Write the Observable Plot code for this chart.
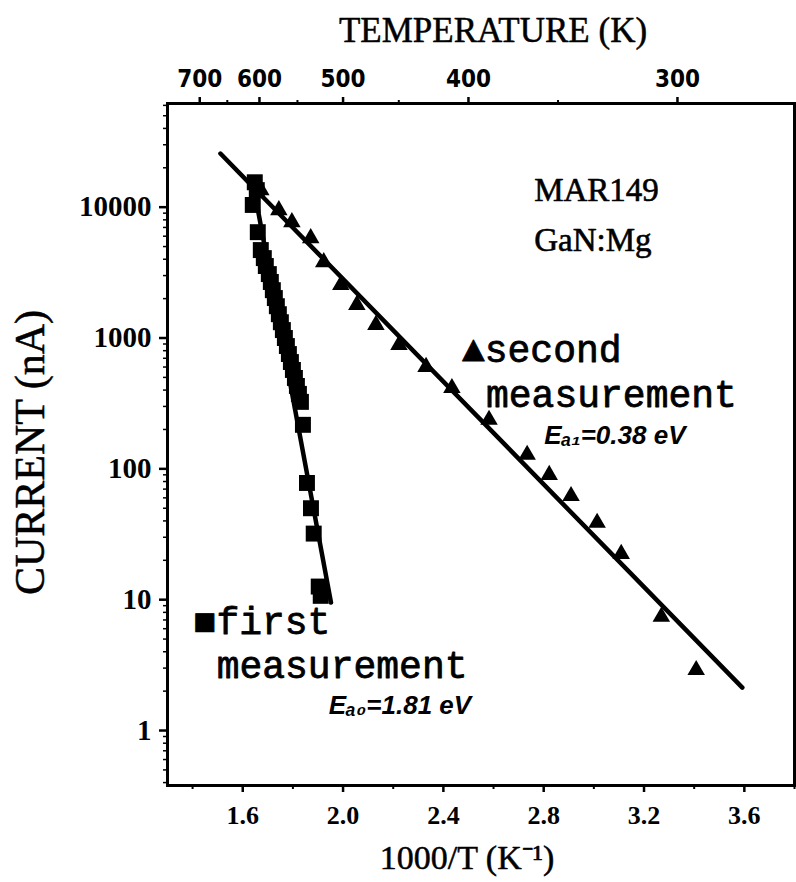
<!DOCTYPE html>
<html><head><meta charset="utf-8">
<script src="https://cdn.jsdelivr.net/npm/d3@7"></script>
<script src="https://cdn.jsdelivr.net/npm/@observablehq/plot@0.6"></script>
<style>body{margin:0;background:#fff}</style>
</head><body><div id="chart"></div>
<script>
// first measurement (squares)
const firstX = [1.648,1.656,1.640,1.660,1.672,1.684,1.692,1.704,1.712,1.720,1.728,1.736,1.744,1.752,1.760,1.768,1.776,1.784,1.792,1.800,1.808,1.816,1.824,1.832,1.840,1.856,1.872,1.883,1.903,1.911];
const firstY = [15500,13500,10400,6440,4700,4080,3550,3080,2680,2320,2020,1750,1520,1320,1150,1000,868,754,655,570,495,430,374,325,217,78,50,32,12.6,10.7];
// second measurement (triangles)
const secondX = [1.672,1.744,1.796,1.871,1.923,1.991,2.055,2.131,2.223,2.331,2.434,2.582,2.734,2.822,2.909,3.013,3.109,3.269,3.408];
const secondY = [13500,9500,7680,5800,3800,2540,1790,1260,885,601,415,237,128,90,62,38.7,22.4,7.4,2.9];
// fitted lines (end points)
const fit1X = [1.64,1.952], fit1Y = [15500,9.5];
const fit2X = [1.511,3.592], fit2Y = [25700,2.13];
// axes
const xTicks = [1.6,2.0,2.4,2.8,3.2,3.6];
const xMinor = [1.4,1.8,2.2,2.6,3.0,3.4,3.8];
const tempTicks = [700,600,500,400,300];
const tempMinor = [650,550,450,350];
const yTicks = [1,10,100,1000,10000];
// annotations
const labelTexts = ["MAR149","GaN:Mg"];
const labelX = [2.762,2.762], labelY = [13500,5600];
const monoTexts = ["▲second","measurement","■first","measurement"];
const monoX = [2.474,2.570,1.404,1.496], monoY = [809,367,6.8,3.13];
const energyTexts = ["Eₐ₁=0.38 eV","Eₐ₀=1.81 eV"];
const energyX = [2.802,1.943], energyY = [180,1.55];

const first = firstX.map((x,i)=>({x,y:firstY[i]}));
const second = secondX.map((x,i)=>({x,y:secondY[i]}));
const fit1 = fit1X.map((x,i)=>({x,y:fit1Y[i]}));
const fit2 = fit2X.map((x,i)=>({x,y:fit2Y[i]}));
const labels = labelTexts.map((t,i)=>({t,x:labelX[i],y:labelY[i]}));
const monos = monoTexts.map((t,i)=>({t,x:monoX[i],y:monoY[i]}));
const energies = energyTexts.map((t,i)=>({t,x:energyX[i],y:energyY[i]}));
const yMinor = [];
for (let e=-1;e<=4;e++) for (let m=2;m<=9;m++){const v=m*Math.pow(10,e); if(v>=0.38&&v<=62000) yMinor.push(v);}

const serif = "'Liberation Serif','Times New Roman',serif";
const mono = "'Liberation Mono','Courier New',monospace";
const narrow = "'Liberation Sans Narrow','DejaVu Sans Condensed','Liberation Sans',sans-serif";
const sans = "'Liberation Sans',Arial,sans-serif";

const chart = Plot.plot({
  width:796, height:882,
  marginLeft:167, marginRight:2, marginTop:103, marginBottom:97,
  style:{background:"#fff", color:"#000", fontFamily:serif, overflow:"visible"},
  x:{domain:[1.3,3.8]},
  y:{type:"log", domain:[0.38,62000]},
  marks:[
    Plot.frame({stroke:"#000", strokeWidth:3}),
    Plot.axisX({anchor:"bottom", ticks:xTicks, tickFormat:d3.format(".1f"), tickSize:7, tickPadding:13, strokeWidth:2.5, fontSize:26, fontWeight:"bold", fontFamily:serif, label:null}),
    Plot.axisX({anchor:"bottom", ticks:xMinor, tickFormat:()=>"", tickSize:4, strokeWidth:2, label:null}),
    Plot.axisX({anchor:"top", ticks:tempTicks.map(t=>1000/t), tickFormat:d=>String(Math.round(1000/d)), tickSize:7, tickPadding:10, strokeWidth:2.5, fontSize:24, fontWeight:"bold", fontFamily:narrow, label:null}),
    Plot.axisX({anchor:"top", ticks:tempMinor.map(t=>1000/t), tickFormat:()=>"", tickSize:4, strokeWidth:2, label:null}),
    Plot.axisY({ticks:yTicks, tickFormat:d=>String(d), tickSize:8, tickPadding:8, strokeWidth:2.5, fontSize:29, fontWeight:"bold", fontFamily:serif, label:null}),
    Plot.axisY({ticks:yMinor, tickFormat:()=>"", tickSize:4, strokeWidth:1.5, label:null}),
    Plot.line(fit1, {x:"x", y:"y", stroke:"#000", strokeWidth:4.5}),
    Plot.line(fit2, {x:"x", y:"y", stroke:"#000", strokeWidth:4.5}),
    Plot.dot(first, {x:"x", y:"y", symbol:"square", r:9, fill:"#000"}),
    Plot.dot(second, {x:"x", y:"y", symbol:"triangle", r:6.5, fill:"#000"}),
    Plot.text(labels, {x:"x", y:"y", text:"t", textAnchor:"start", fontFamily:serif, fontSize:33, fill:"#000", stroke:"#000", strokeWidth:0.6}),
    Plot.text(monos, {x:"x", y:"y", text:"t", textAnchor:"start", fontFamily:mono, fontSize:38, fill:"#000", stroke:"#000", strokeWidth:0.8}),
    Plot.text(energies, {x:"x", y:"y", text:"t", textAnchor:"start", fontFamily:sans, fontStyle:"italic", fontWeight:"bold", fontSize:26, fill:"#000"}),
    Plot.text(["TEMPERATURE (K)"], {text:d=>d, frameAnchor:"top", lineAnchor:"middle", dx:12, dy:-73, fontFamily:serif, fontSize:35, letterSpacing:"1.5px", fill:"#000", stroke:"#000", strokeWidth:0.5}),
    Plot.text(["1000/T (K⁻¹)"], {text:d=>d, frameAnchor:"bottom", lineAnchor:"middle", dx:-14, dy:73, fontFamily:serif, fontSize:34, fill:"#000", stroke:"#000", strokeWidth:0.5}),
    Plot.text(["CURRENT (nA)"], {text:d=>d, frameAnchor:"left", textAnchor:"middle", lineAnchor:"middle", rotate:-90, dx:-137, dy:8, fontFamily:serif, fontSize:42, letterSpacing:"5px", fill:"#000", stroke:"#000", strokeWidth:0.5})
  ]
});
document.getElementById("chart").append(chart);
</script>
</body></html>
